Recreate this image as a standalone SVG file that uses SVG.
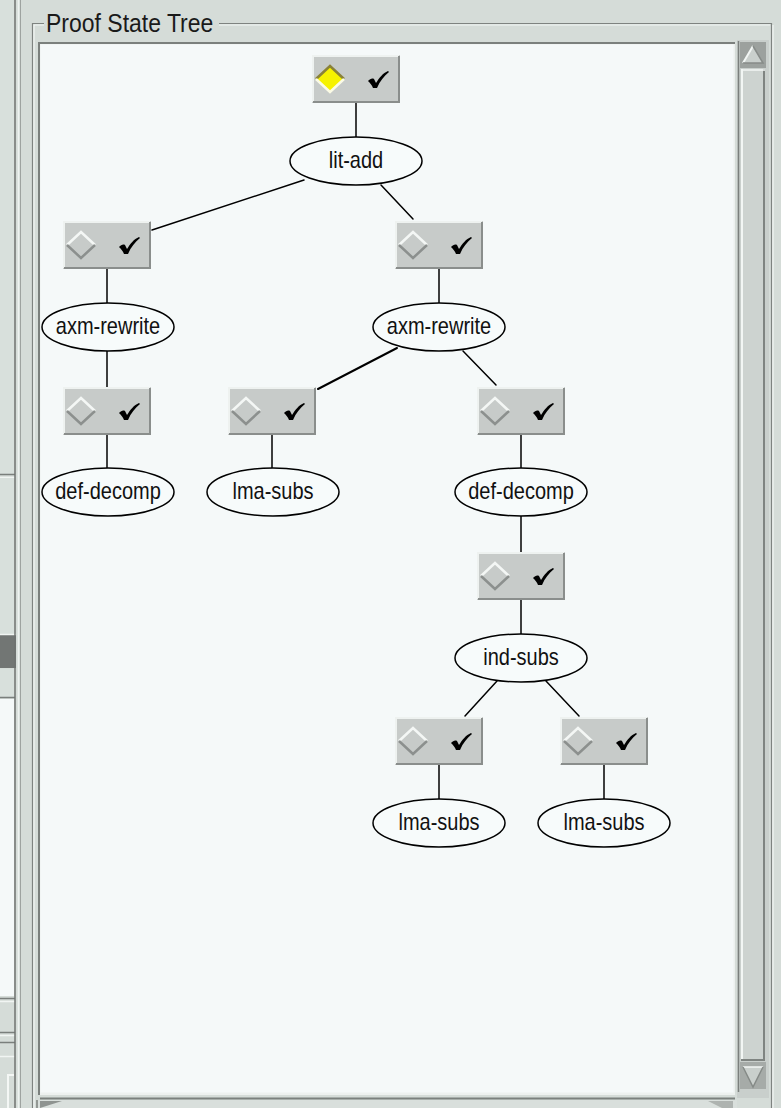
<svg xmlns="http://www.w3.org/2000/svg" width="781" height="1108" viewBox="0 0 781 1108">
<defs>
<style>
.lbl{font-family:"Liberation Sans",Arial,Helvetica,sans-serif;font-size:20px;fill:#111;text-anchor:middle}
.title{font-family:"Liberation Sans",Arial,Helvetica,sans-serif;font-size:23px;fill:#1a1a1a}
.edge{stroke:#000;stroke-width:1.5;fill:none;stroke-linecap:round}
.ell{fill:#f7fbfb;stroke:#000;stroke-width:1.5}
.dk{stroke:#7a7f7c;stroke-width:1.5;fill:none}
.lt{stroke:#f1f5f3;stroke-width:1.5;fill:none}
</style>
<g id="boxbase">
<rect x="0" y="0" width="88" height="48" fill="#c7cbc9"/>
<path d="M1,47 V1 H87" stroke="#eef2f0" stroke-width="2" fill="none"/>
<path d="M1,47 H87 V1" stroke="#8a8e8c" stroke-width="2" fill="none"/>
<path d="M56,26 C58,24 60,23 62,24 L64,28 C67,23 71,18 76,16 L77,17 C72,21 68,26 65,33 L61,33 C60,30 58,28 56,26 Z" fill="#000"/>
</g>
<g id="dgray">
<polygon points="4,24 18,11 32,24 18,37" fill="#c7cbc9"/>
<path d="M4,24 L18,11 L32,24" stroke="#f4f7f5" stroke-width="2.5" fill="none"/>
<path d="M4,24 L18,37 L32,24" stroke="#8c908e" stroke-width="2.5" fill="none"/>
</g>
<g id="dyellow">
<polygon points="4,24 18,11 32,24 18,37" fill="#f6f200"/>
<path d="M4,24 L18,11 L32,24" stroke="#8a8238" stroke-width="2.5" fill="none"/>
<path d="M4,24 L18,37 L32,24" stroke="#fbfbe6" stroke-width="2.5" fill="none"/>
</g>
</defs>

<!-- window background -->
<rect x="0" y="0" width="781" height="1108" fill="#d5dcd8"/>

<!-- left side panels -->
<g id="left-panels">
<rect x="0" y="0" width="14" height="474" fill="#d8e0dc"/>
<line x1="0" y1="474.5" x2="15" y2="474.5" class="dk"/>
<line x1="0" y1="477.5" x2="15" y2="477.5" class="lt"/>
<rect x="0" y="478" width="14" height="156" fill="#d8e0dc"/>
<rect x="0" y="635" width="16" height="33" fill="#727674"/>
<line x1="0" y1="634.5" x2="16" y2="634.5" class="lt"/>
<rect x="0" y="669" width="14" height="28" fill="#d8e0dc"/>
<line x1="0" y1="697.5" x2="15" y2="697.5" class="dk"/>
<rect x="0" y="699" width="14" height="297" fill="#f5f9f9"/>
<line x1="0" y1="998.5" x2="15" y2="998.5" class="dk"/>
<line x1="0" y1="1001.5" x2="15" y2="1001.5" class="lt"/>
<line x1="0" y1="1032.5" x2="15" y2="1032.5" class="dk"/>
<line x1="0" y1="1035.5" x2="15" y2="1035.5" class="lt"/>
<line x1="0" y1="1042.5" x2="15" y2="1042.5" class="dk"/>
<line x1="0" y1="1056.5" x2="15" y2="1056.5" class="lt"/>
<path d="M8,1108 V1075 H14" stroke="#f4f7f5" stroke-width="2" fill="none"/>
<line x1="15" y1="0" x2="15" y2="1108" stroke="#6f7371" stroke-width="1.5"/>
<line x1="18.5" y1="0" x2="18.5" y2="1108" stroke="#eef2f0" stroke-width="1.5"/>
<line x1="20.5" y1="0" x2="20.5" y2="1108" stroke="#9ea3a0" stroke-width="1"/>
</g>

<!-- group frame -->
<g id="frame">
<path d="M32.5,1108 V23.5 H771.5 V1108" stroke="#7e8380" stroke-width="1.2" fill="none"/>
<path d="M34,1108 V25 H770" stroke="#f2f6f4" stroke-width="1.2" fill="none"/>
<line x1="773" y1="25" x2="773" y2="1108" stroke="#f2f6f4" stroke-width="1.2"/>
<rect x="44" y="10" width="175" height="20" fill="#d5dcd8"/>
<text class="title" transform="translate(46 32) scale(1 1.1)">Proof State Tree</text>
</g>

<!-- canvas -->
<g id="canvas">
<rect x="39" y="43" width="696" height="1052" fill="#edf1ef"/>
<rect x="40.5" y="44.5" width="693" height="1048" fill="#f5f9f9"/>
<path d="M39,1095 V43 H735" stroke="#7b807d" stroke-width="2" fill="none"/>
<line x1="40" y1="1098.5" x2="735" y2="1098.5" stroke="#7b807d" stroke-width="2"/>
</g>

<!-- vertical scrollbar -->
<g id="vscroll">
<rect x="737" y="40" width="32" height="1058" fill="#c9cfcc"/>
<line x1="738.5" y1="41" x2="738.5" y2="1092" stroke="#7b807d" stroke-width="1.5"/>
<rect x="740" y="42" width="26" height="26" fill="#9ca19e"/>
<polygon points="753,46 743,63 763,63" fill="#c9cfcc"/>
<path d="M743,63 L753,46" stroke="#f2f6f4" stroke-width="2" fill="none"/>
<path d="M753,46 L763,63 L743,63" stroke="#868b88" stroke-width="1.5" fill="none"/>
<rect x="741" y="69" width="24" height="991" fill="#cdd3d0"/>
<line x1="742" y1="69" x2="742" y2="1060" stroke="#f2f6f4" stroke-width="2"/>
<line x1="764" y1="69" x2="764" y2="1060" stroke="#7f8481" stroke-width="2"/>
<line x1="741" y1="1060" x2="765" y2="1060" stroke="#7f8481" stroke-width="2"/>
<line x1="741" y1="70" x2="765" y2="70" stroke="#f2f6f4" stroke-width="1.5"/>
<rect x="740" y="1062" width="26" height="27" fill="#a6aba8"/>
<polygon points="743,1067 763,1067 753,1087" fill="#c9cfcc"/>
<path d="M743,1067 L763,1067" stroke="#f2f6f4" stroke-width="1.5" fill="none"/>
<path d="M743,1067 L753,1087 L763,1067" stroke="#868b88" stroke-width="1.5" fill="none"/>
</g>

<!-- horizontal scrollbar (partly visible) -->
<g id="hscroll">
<rect x="37" y="1100" width="700" height="8" fill="#d9dfdc"/>
<polygon points="40,1108 40,1101 62,1101" fill="#8e9390"/>
<polygon points="708,1101 733,1101 733,1108 722,1108" fill="#aeb3b0"/>
<line x1="37" y1="1100" x2="37" y2="1108" stroke="#7b807d" stroke-width="1.5"/>
</g>

<!-- connectors -->
<g id="connectors">
<line class="edge" x1="356" y1="103" x2="356" y2="137"/>
<line class="edge" x1="304" y1="180" x2="152" y2="230"/>
<line class="edge" x1="381" y1="185" x2="413" y2="219"/>
<line class="edge" x1="107" y1="269" x2="107" y2="303"/>
<line class="edge" x1="439" y1="269" x2="439" y2="303"/>
<line class="edge" x1="107" y1="351" x2="107" y2="387"/>
<line class="edge" x1="397" y1="348" x2="318" y2="389" style="stroke-width:2"/>
<line class="edge" x1="463" y1="351" x2="496" y2="385"/>
<line class="edge" x1="107" y1="435" x2="107" y2="468"/>
<line class="edge" x1="272" y1="435" x2="272" y2="468"/>
<line class="edge" x1="521" y1="435" x2="521" y2="468"/>
<line class="edge" x1="521" y1="516" x2="521" y2="552"/>
<line class="edge" x1="521" y1="600" x2="521" y2="634"/>
<line class="edge" x1="497" y1="681" x2="465" y2="716"/>
<line class="edge" x1="546" y1="681" x2="579" y2="716"/>
<line class="edge" x1="439" y1="765" x2="439" y2="799"/>
<line class="edge" x1="604" y1="765" x2="604" y2="799"/>
</g>

<!-- process boxes -->
<g id="box0" transform="translate(312 55)"><use href="#boxbase"/><use href="#dyellow"/></g>
<g id="box1" transform="translate(63 221)"><use href="#boxbase"/><use href="#dgray"/></g>
<g id="box2" transform="translate(395 221)"><use href="#boxbase"/><use href="#dgray"/></g>
<g id="box3" transform="translate(63 387)"><use href="#boxbase"/><use href="#dgray"/></g>
<g id="box4" transform="translate(228 387)"><use href="#boxbase"/><use href="#dgray"/></g>
<g id="box5" transform="translate(477 387)"><use href="#boxbase"/><use href="#dgray"/></g>
<g id="box6" transform="translate(477 552)"><use href="#boxbase"/><use href="#dgray"/></g>
<g id="box7" transform="translate(395 717)"><use href="#boxbase"/><use href="#dgray"/></g>
<g id="box8" transform="translate(560 717)"><use href="#boxbase"/><use href="#dgray"/></g>

<!-- rule ellipses -->
<g id="rule0"><ellipse class="ell" cx="356" cy="161" rx="66" ry="24"/><text class="lbl" transform="translate(356 168) scale(1 1.2)">lit-add</text></g>
<g id="rule1"><ellipse class="ell" cx="108" cy="327" rx="66" ry="24"/><text class="lbl" transform="translate(108 334) scale(1 1.2)">axm-rewrite</text></g>
<g id="rule2"><ellipse class="ell" cx="439" cy="327" rx="66" ry="24"/><text class="lbl" transform="translate(439 334) scale(1 1.2)">axm-rewrite</text></g>
<g id="rule3"><ellipse class="ell" cx="108" cy="492" rx="66" ry="24"/><text class="lbl" transform="translate(108 499) scale(1 1.2)">def-decomp</text></g>
<g id="rule4"><ellipse class="ell" cx="273" cy="492" rx="66" ry="24"/><text class="lbl" transform="translate(273 499) scale(1 1.2)">lma-subs</text></g>
<g id="rule5"><ellipse class="ell" cx="521" cy="492" rx="66" ry="24"/><text class="lbl" transform="translate(521 499) scale(1 1.2)">def-decomp</text></g>
<g id="rule6"><ellipse class="ell" cx="521" cy="658" rx="66" ry="24"/><text class="lbl" transform="translate(521 665) scale(1 1.2)">ind-subs</text></g>
<g id="rule7"><ellipse class="ell" cx="439" cy="823" rx="66" ry="24"/><text class="lbl" transform="translate(439 830) scale(1 1.2)">lma-subs</text></g>
<g id="rule8"><ellipse class="ell" cx="604" cy="823" rx="66" ry="24"/><text class="lbl" transform="translate(604 830) scale(1 1.2)">lma-subs</text></g>
</svg>
